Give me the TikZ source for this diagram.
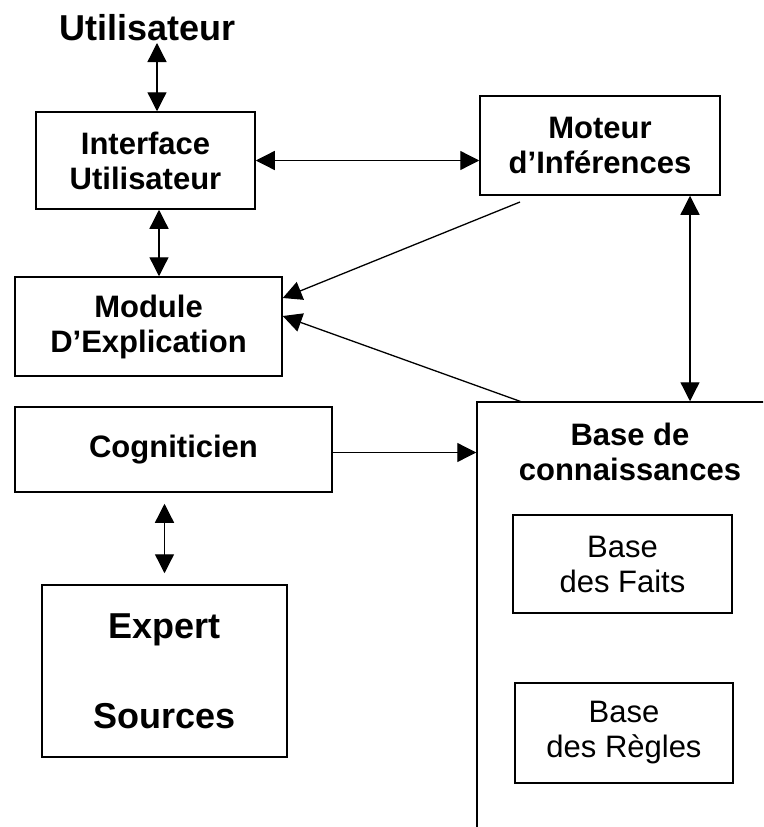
\documentclass[tikz,border=0pt]{standalone}
\usepackage{fontspec}
\setmainfont{Liberation Sans}
\usetikzlibrary{arrows.meta}
\tikzset{
  box/.style={draw, line width=1.5pt, inner sep=0pt, align=center},
  lbl/.style={inner sep=0pt, align=center},
  bigtxt/.style={font=\fontsize{31}{35}\selectfont\bfseries},
  regtxt/.style={font=\fontsize{31}{35}\selectfont},
  dbl/.style={line width=1.3pt, {Triangle[length=19pt,width=19pt]}-{Triangle[length=19pt,width=19pt]}},
  sgl/.style={line width=1.3pt, -{Triangle[length=19pt,width=19pt]}},
}
\begin{document}
\begin{tikzpicture}[x=1pt,y=-1pt]
\useasboundingbox (0,0) rectangle (763,827);
\clip (0,0) rectangle (763,827);
\fill[white] (0,0) rectangle (763,827);

% nodes
\node[lbl, font=\fontsize{36}{40}\selectfont\bfseries] (user) at (147.5,28) {Utilisateur};
\node[box, bigtxt, minimum width=219pt, minimum height=97pt] (iface) at (145.5,160.5) {Interface\\Utilisateur};
\node[box, bigtxt, minimum width=240pt, minimum height=99pt] (moteur) at (600,145.5) {Moteur\\d’Inférences};
\node[box, bigtxt, minimum width=267pt, minimum height=99pt] (module) at (148.5,326.5) {Module\\D’Explication};
\node[box, bigtxt, minimum width=317pt, minimum height=85pt] (cog) at (173.5,449.5) {Cogniticien};
\node[box, font=\fontsize{36}{90}\selectfont\bfseries, minimum width=245pt, minimum height=172pt] (expert) at (164.5,671) {Expert\\Sources};
\node[box, minimum width=323pt, minimum height=468pt] (kb) at (638.5,636) {};
\node[lbl, bigtxt] (kbt) at (630,452) {Base de\\connaissances};
\node[box, regtxt, minimum width=219pt, minimum height=98pt] (faits) at (622.5,564) {Base\\des Faits};
\node[box, regtxt, minimum width=218pt, minimum height=100pt] (regles) at (624,733) {Base\\des Règles};

% helper coordinates
\coordinate (ua) at (157,43);
\coordinate (ub) at (159,0);
\coordinate (vx) at (690,0);
\coordinate (m1) at (520,202);
\coordinate (k1) at (522,402);

% connectors
\draw[dbl] (ua) -- (ua |- iface.north);
\draw[dbl] (iface.south -| ub) -- (module.north -| ub);
\draw[dbl] (iface.east) -- (iface.east -| moteur.west);
\draw[dbl] (moteur.south -| vx) -- (kb.north -| vx);
\draw[sgl] (m1) -- ([yshift=28.5pt]module.east);
\draw[sgl] (k1) -- ([yshift=10.5pt]module.east);
\draw[sgl] ([yshift=-3pt]cog.east) -- ([yshift=-3pt]cog.east -| kb.west);
\draw[dbl, shorten <=11pt, shorten >=11pt] (cog.south -| expert.north) -- (expert.north);
\end{tikzpicture}
\end{document}
